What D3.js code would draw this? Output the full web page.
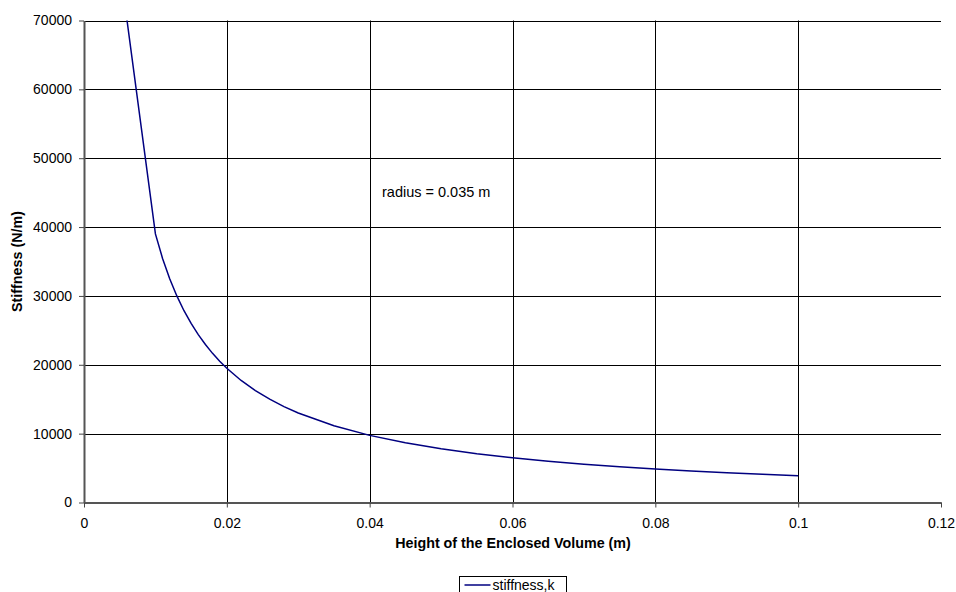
<!DOCTYPE html>
<html>
<head>
<meta charset="utf-8">
<script src="https://cdn.jsdelivr.net/npm/d3@7"></script>
<style>
  body { margin: 0; background: #fff; }
  svg { display: block; font-family: "Liberation Sans", Arial, sans-serif; }
</style>
</head>
<body>
<div id="app"></div>
<script>
// chart data
let heights = [0.005, 0.01, 0.011, 0.012, 0.013, 0.014, 0.015, 0.016, 0.017, 0.018, 0.019, 0.02,
    0.022, 0.024, 0.026, 0.028, 0.03, 0.035, 0.04, 0.045, 0.05, 0.055, 0.06, 0.065, 0.07,
    0.075, 0.08, 0.085, 0.09, 0.095, 0.1]
let stiffness = [78000, 39000, 35450, 32500, 30000, 27850, 26000, 24370, 22940, 21660, 20520, 19500,
    17720, 16250, 15000, 13930, 13000, 11140, 9750, 8670, 7800, 7090, 6500, 6000, 5570,
    5200, 4875, 4590, 4330, 4100, 3900]
let xTicks = [0, 0.02, 0.04, 0.06, 0.08, 0.1, 0.12]
let yTicks = [0, 10000, 20000, 30000, 40000, 50000, 60000, 70000]
let seriesName = "stiffness,k"
let note = "radius = 0.035 m"

let width = 956
let height = 592
let margin = {top: 20.5, right: 15, bottom: 89.5, left: 84}

let svg = d3.select("#app").append("svg")
    .attr("width", width)
    .attr("height", height)

let x = d3.scaleLinear().domain([0, 0.12]).range([margin.left, width - margin.right])
let y = d3.scaleLinear().domain([0, 70000]).range([height - margin.bottom, margin.top])

// gridlines
svg.append("g").selectAll("line.h")
    .data(yTicks.filter(d => d > 0))
    .enter().append("line")
    .attr("x1", x(0)).attr("x2", x(0.12))
    .attr("y1", d => Math.round(y(d)) + 0.5).attr("y2", d => Math.round(y(d)) + 0.5)
    .attr("stroke", "#000").attr("stroke-width", 1)

svg.append("g").selectAll("line.v")
    .data(xTicks.filter(d => d > 0 && d < 0.12))
    .enter().append("line")
    .attr("x1", d => Math.round(x(d)) + 0.5).attr("x2", d => Math.round(x(d)) + 0.5)
    .attr("y1", y(70000)).attr("y2", y(0))
    .attr("stroke", "#000").attr("stroke-width", 1)

// axes
let xAxis = svg.append("g")
    .attr("transform", "translate(0," + y(0) + ")")
    .call(d3.axisBottom(x).tickValues(xTicks).tickFormat(d3.format("")).tickSizeInner(5).tickSizeOuter(0).tickPadding(11))
let yAxis = svg.append("g")
    .attr("transform", "translate(" + x(0) + ",0)")
    .call(d3.axisLeft(y).tickValues(yTicks).tickFormat(d => d).tickSizeInner(5).tickSizeOuter(0).tickPadding(7))

for (let ax of [xAxis, yAxis]) {
    ax.select(".domain").attr("stroke", "#555").attr("stroke-width", 2)
    ax.selectAll(".tick line").attr("stroke", "#444")
    ax.selectAll(".tick text").attr("font-size", 14).attr("fill", "#000")
        .attr("font-family", "Liberation Sans, Arial, sans-serif")
}

// clip to plot area
svg.append("clipPath").attr("id", "plot")
    .append("rect")
    .attr("x", x(0)).attr("y", y(70000))
    .attr("width", x(0.12) - x(0)).attr("height", y(0) - y(70000))

let points = heights.map((h, i) => ({h: h, k: stiffness[i]}))

svg.append("path")
    .datum(points)
    .attr("clip-path", "url(#plot)")
    .attr("fill", "none")
    .attr("stroke", "#000080")
    .attr("stroke-width", 1.5)
    .attr("d", d3.line().x(d => x(d.h)).y(d => y(d.k)))

// annotation
svg.append("text")
    .attr("x", 382).attr("y", 197)
    .attr("font-size", 14.5)
    .text(note)

// axis titles
svg.append("text")
    .attr("x", 513).attr("y", 547.5)
    .attr("text-anchor", "middle")
    .attr("font-size", 14.3).attr("font-weight", "bold")
    .text("Height of the Enclosed Volume (m)")

svg.append("text")
    .attr("transform", "translate(22," + y(35000) + ") rotate(-90)")
    .attr("text-anchor", "middle")
    .attr("font-size", 14.3).attr("font-weight", "bold")
    .text("Stiffness (N/m)")

// legend (cut by the bottom edge, as in the original)
let legend = svg.append("g").attr("transform", "translate(459.5,576.5)")
legend.append("rect")
    .attr("width", 107).attr("height", 30)
    .attr("fill", "#fff").attr("stroke", "#000")
legend.append("line")
    .attr("x1", 5).attr("x2", 31).attr("y1", 8.5).attr("y2", 8.5)
    .attr("stroke", "#000080").attr("stroke-width", 1.5)
legend.append("text")
    .attr("x", 33).attr("y", 13.5)
    .attr("font-size", 14)
    .text(seriesName)
</script>
</body>
</html>
